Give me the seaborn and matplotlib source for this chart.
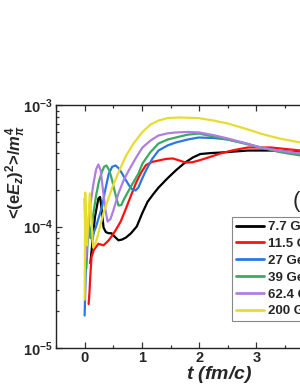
import numpy as np
import pandas as pd
import matplotlib
matplotlib.use("Agg")
import matplotlib.pyplot as plt
import matplotlib.ticker as mticker
import seaborn as sns

# ---- data (values in units of 1e-4 m_pi^4) ----
energies = ["7.7 GeV", "11.5 GeV", "27 GeV", "39 GeV", "62.4 GeV", "200 GeV"]

t_77 = [0.10, 0.18, 0.24, 0.27, 0.30, 0.33, 0.37, 0.42, 0.47, 0.53, 0.59, 0.65, 0.72, 0.81, 0.91, 1.01, 1.10, 1.20, 1.29, 1.45, 1.59, 1.75, 1.89, 2.02, 2.20, 2.37, 2.85, 3.25, 3.77, 4.2]
v_77 = [0.50, 1.20, 1.70, 1.75, 1.35, 0.98, 0.90, 0.88, 0.88, 0.82, 0.77, 0.78, 0.81, 0.88, 1.00, 1.30, 1.60, 1.85, 2.09, 2.50, 2.89, 3.35, 3.70, 3.95, 4.02, 4.06, 4.22, 4.22, 4.06, 3.95]

t_115 = [0.07, 0.085, 0.10, 0.12, 0.16, 0.19, 0.24, 0.33, 0.42, 0.48, 0.54, 0.63, 0.72, 0.81, 0.90, 0.98, 1.07, 1.18, 1.29, 1.42, 1.54, 1.65, 1.76, 1.88, 1.99, 2.20, 2.37, 2.60, 2.85, 3.25, 3.77, 4.2]
v_115 = [0.23, 0.29, 0.40, 0.56, 0.64, 0.67, 0.72, 0.70, 0.77, 0.84, 0.93, 1.10, 1.40, 1.80, 2.30, 2.75, 3.20, 3.40, 3.49, 3.60, 3.63, 3.50, 3.36, 3.38, 3.49, 3.75, 3.99, 4.25, 4.47, 4.47, 4.22, 4.00]

t_27 = [0.0, 0.03, 0.07, 0.12, 0.20, 0.25, 0.30, 0.36, 0.42, 0.48, 0.54, 0.60, 0.65, 0.71, 0.77, 0.83, 0.89, 0.94, 1.00, 1.07, 1.18, 1.29, 1.45, 1.59, 1.80, 1.99, 2.25, 2.50, 2.80, 3.07, 3.40, 3.77, 4.2]
v_27 = [0.185, 0.70, 0.95, 0.80, 1.00, 1.20, 1.43, 2.00, 2.70, 3.10, 3.18, 3.00, 2.75, 2.45, 2.20, 2.02, 1.98, 2.10, 2.45, 2.89, 3.60, 4.22, 4.65, 4.91, 5.20, 5.40, 5.35, 5.20, 4.85, 4.47, 4.20, 3.99, 3.70]

t_39 = [0.03, 0.07, 0.10, 0.15, 0.20, 0.25, 0.30, 0.34, 0.38, 0.43, 0.48, 0.53, 0.59, 0.64, 0.68, 0.77, 0.86, 0.94, 1.01, 1.15, 1.29, 1.45, 1.59, 1.80, 1.99, 2.25, 2.50, 2.80, 3.07, 3.40, 3.77, 4.2]
v_39 = [0.45, 1.10, 0.80, 1.25, 1.80, 2.35, 2.80, 3.10, 3.18, 2.90, 2.40, 1.90, 1.49, 1.50, 1.65, 1.98, 2.35, 2.73, 3.30, 4.10, 4.82, 5.20, 5.40, 5.70, 5.82, 5.50, 5.20, 4.80, 4.47, 4.10, 3.84, 3.55]

t_624 = [0.0, 0.02, 0.06, 0.10, 0.15, 0.20, 0.24, 0.28, 0.32, 0.36, 0.40, 0.45, 0.50, 0.59, 0.68, 0.77, 0.90, 1.01, 1.15, 1.29, 1.45, 1.59, 1.80, 1.99, 2.25, 2.50, 2.80, 3.07, 3.40, 3.77, 4.2]
v_624 = [1.70, 0.55, 0.90, 1.50, 2.20, 2.95, 3.24, 2.90, 2.00, 1.40, 1.10, 1.15, 1.35, 1.87, 2.40, 2.89, 3.70, 4.47, 5.10, 5.61, 5.85, 5.94, 6.00, 5.95, 5.65, 5.30, 4.85, 4.47, 4.20, 3.99, 3.70]

t_200 = [0.0, 0.01, 0.04, 0.09, 0.15, 0.20, 0.24, 0.33, 0.42, 0.50, 0.59, 0.72, 0.85, 1.01, 1.15, 1.29, 1.45, 1.65, 1.99, 2.25, 2.50, 2.80, 3.07, 3.40, 3.77, 4.2]
v_200 = [0.25, 1.90, 0.70, 1.87, 0.67, 0.75, 0.88, 1.30, 1.73, 2.20, 2.78, 3.80, 4.80, 6.00, 6.90, 7.45, 7.80, 7.90, 7.80, 7.45, 7.04, 6.40, 5.82, 5.30, 4.91, 4.50]

series_t = [t_77, t_115, t_27, t_39, t_624, t_200]
series_v = [v_77, v_115, v_27, v_39, v_624, v_200]

colors = ["#000000", "#ff1010", "#2a78e4", "#3aaa60", "#b07ee0", "#e8dc30"]

x_ticks = [0, 1, 2, 3, 4, 5]
y_ticks = [1e-5, 1e-4, 1e-3]

rows = []
for name, ts, vs in zip(energies, series_t, series_v):
    for i, (t, v) in enumerate(zip(ts, vs)):
        rows.append({"t": t, "E": v * 1e-4, "energy": name, "order": i})
df = pd.DataFrame(rows)

sns.set_style("ticks")
plt.rcParams["font.family"] = ["Liberation Sans", "DejaVu Sans"]
plt.rcParams["font.weight"] = "bold"
plt.rcParams["mathtext.fontset"] = "custom"
plt.rcParams["mathtext.rm"] = "Liberation Sans:bold"
plt.rcParams["mathtext.it"] = "Liberation Sans:bold:italic"
plt.rcParams["mathtext.bf"] = "Liberation Sans:bold"

fig = plt.figure(figsize=(3.0, 3.88), dpi=100)
ax = fig.add_axes([56 / 300, 40 / 388, 315 / 300, 243 / 388])

sns.lineplot(data=df, x="t", y="E", hue="energy", hue_order=energies,
             palette=colors, sort=False, estimator=None, linewidth=1.6, ax=ax)

ax.set_yscale("log")
ax.set_ylim(1e-5, 1e-3)
ax.set_xlim(-0.5, 5)
ax.set_xticks(x_ticks)
ax.xaxis.set_minor_locator(mticker.MultipleLocator(0.5))
ax.set_yticks(y_ticks)
ax.yaxis.set_minor_locator(mticker.LogLocator(base=10, subs=np.arange(2, 10)))
ax.yaxis.set_minor_formatter(mticker.NullFormatter())
ax.tick_params(which="both", direction="in", top=True, right=True, width=0.9, color="#333333")
ax.tick_params(which="major", length=4.5, labelsize=10.5, pad=2)
ax.tick_params(which="minor", length=2.5)
for lbl in ax.get_xticklabels() + ax.get_yticklabels():
    lbl.set_fontweight("bold")
for s in ax.spines.values():
    s.set_linewidth(1.0)
    s.set_color("#222222")

ax.set_xlabel(r"$t$ (fm/c)", fontsize=14, fontweight="bold", fontstyle="italic")
ax.xaxis.set_label_coords((219 - 56) / 315, -0.065)
ax.set_ylabel(r"<(e$E_z$)$^2$>/$m_\pi^4$", fontsize=12, fontweight="bold")
ax.yaxis.set_label_coords((28 - 56) / 315, (348 - 172) / 243)

handles, labels = ax.get_legend_handles_labels()
leg = ax.legend(handles, labels, loc="upper left",
                bbox_to_anchor=(232 / 300, 1 - 217 / 388), bbox_transform=fig.transFigure,
                frameon=True, fancybox=False, edgecolor="#888888", framealpha=1,
                prop={"weight": "bold", "size": 9.5}, handlelength=2.1, handletextpad=0.3,
                labelspacing=0.35, borderpad=0.3, borderaxespad=0)
leg.get_frame().set_linewidth(0.8)
for line in leg.get_lines():
    line.set_linewidth(2.0)

fig.text(293 / 300, 1 - 201 / 388, "(a)", fontsize=16, ha="left", va="center", fontweight="normal")

fig.savefig("out.png", dpi=100)
